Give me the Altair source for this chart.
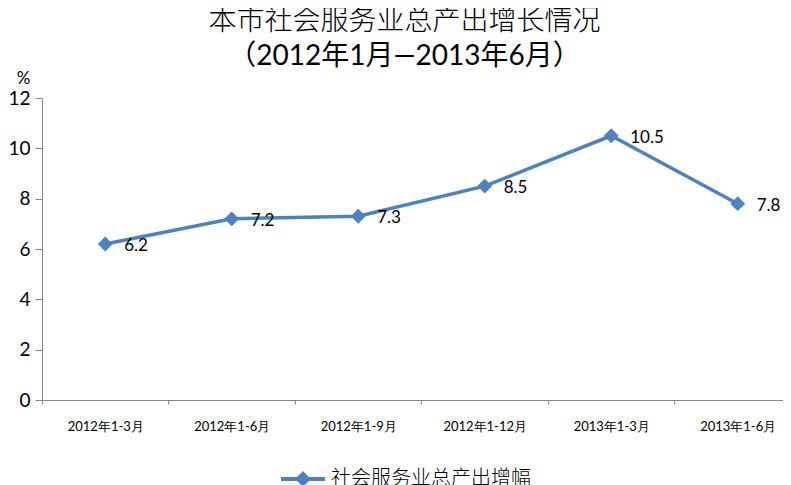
import json
import altair as alt
import pandas as pd

categories = ["2012年1-3月", "2012年1-6月", "2012年1-9月", "2012年1-12月", "2013年1-3月", "2013年1-6月"]
values = [6.2, 7.2, 7.3, 8.5, 10.5, 7.8]
series_name = "社会服务业总产出增幅"
y_ticks = [0, 2, 4, 6, 8, 10, 12]

df = pd.DataFrame({
    "idx": list(range(len(categories))),
    "cat": categories,
    "val": values,
    "series": [series_name] * len(categories),
})

BLUE = "#4F81BD"
GREY = "#868686"
CJK = "Noto Sans CJK SC"

x_vals = []
for i in range(len(categories)):
    x_vals += [i - 0.5, i]
label_expr = "datum.value % 1 === 0 ? " + json.dumps(categories, ensure_ascii=False) + "[datum.value] : ''"

x_enc = alt.X(
    "idx:Q",
    scale=alt.Scale(domain=[-0.5, 5.358], nice=False, zero=False),
    axis=alt.Axis(
        values=x_vals,
        labelExpr=label_expr,
        title=None,
        grid=False,
        domainColor=GREY,
        tickColor=GREY,
        tickSize=4,
        tickOpacity=alt.condition("datum.value % 1 !== 0", alt.value(1), alt.value(0)),
        labelFontSize=13,
        labelFont="Lato",
        labelColor="#000000",
        labelPadding=16,
        labelFlush=False,
        labelOverlap=False,
    ),
)
y_enc = alt.Y(
    "val:Q",
    scale=alt.Scale(domain=[0, 12], nice=False),
    axis=alt.Axis(
        values=y_ticks,
        title="%",
        titleAngle=0,
        titleX=-19,
        titleY=-11,
        titleAlign="center",
        titleFontSize=17,
        titleFontWeight="normal",
        titleFont="Lato",
        grid=False,
        domainColor=GREY,
        tickColor=GREY,
        tickSize=7,
        labelFontSize=19,
        labelFont="Lato",
        labelColor="#000000",
        labelPadding=5,
    ),
)

base = alt.Chart(df)
line = base.mark_line(color=BLUE, strokeWidth=3.5).encode(x=x_enc, y=y_enc)
points = base.mark_point(shape="diamond", filled=True, size=220, opacity=1).encode(
    x=x_enc,
    y=y_enc,
    color=alt.Color(
        "series:N",
        scale=alt.Scale(range=[BLUE]),
        legend=alt.Legend(
            title=None,
            orient="none",
            legendX=237,
            legendY=357,
            symbolType="M-1,0L1,0M0,-0.23L0.23,0L0,0.23L-0.23,0Z",
            symbolSize=1936,
            symbolStrokeWidth=4,
            symbolStrokeColor=BLUE,
            symbolFillColor=BLUE,
            labelFontSize=20,
            labelFont=CJK,
            labelFontWeight=300,
            labelColor="#000000",
            labelLimit=0,
            labelOffset=4,
        ),
    ),
)
labels = base.mark_text(align="left", baseline="middle", dx=19, dy=2, fontSize=17, font="Lato", color="#000000").encode(
    x=x_enc, y=y_enc, text=alt.Text("val:Q", format=".1f")
)

chart = (
    alt.layer(line, points, labels)
    .properties(
        width=741,
        height=302,
        title=alt.TitleParams(
            text="本市社会服务业总产出增长情况",
            subtitle="（2012年1月—2013年6月）",
            font=CJK,
            fontSize=28,
            fontWeight=300,
            subtitleFont="Lato, Noto Sans CJK SC",
            subtitleFontSize=28,
            subtitleColor="#000000",
            subtitlePadding=7,
            anchor="middle",
            color="#000000",
            offset=0,
            dx=-8,
            dy=2,
        ),
        autosize=alt.AutoSizeParams(type="none"),
        padding={"left": 34, "top": 90, "right": 0, "bottom": 85},
    )
    .configure_view(stroke=None)
)

chart.save("out.html", embed_options={"renderer": "svg", "actions": False})
